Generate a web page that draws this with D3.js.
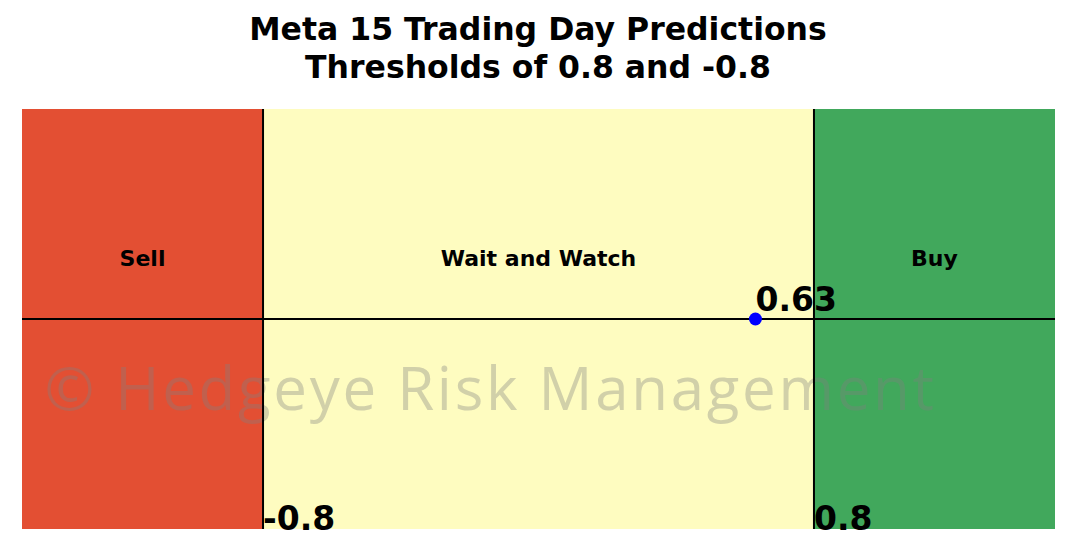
<!DOCTYPE html>
<html lang="en">
<head>
    <meta charset="UTF-8">
    <title>Meta 15 Trading Day Predictions</title>
    <script src="https://d3js.org/d3.v7.min.js"></script>
    <style>
        body { margin: 0; background: #fff; }
        text { font-family: "DejaVu Sans", sans-serif; }
    </style>
</head>
<body>
    <svg id="chart" width="1075" height="539"></svg>
    <script>
        // zones and thresholds
        const zones = ["Sell", "Wait and Watch", "Buy"];
        const zoneStart = [-1.5, -0.8, 0.8];
        const zoneEnd = [-0.8, 0.8, 1.5];
        const zoneColors = ["#e34f33", "#fefcc0", "#41a85c"];
        const thresholds = [-0.8, 0.8];
        const thresholdLabels = ["-0.8", "0.8"];
        const prediction = 0.63;

        const svg = d3.select("#chart");
        const margin = {top: 109, left: 22};

        const x = d3.scaleLinear().domain([-1.5, 1.5]).range([margin.left, 1055]);
        const y = d3.scaleLinear().domain([-1, 1]).range([529, margin.top]);

        // title
        const title = svg.append("text")
            .attr("text-anchor", "middle")
            .style("font-weight", "bold")
            .style("font-size", "31.5px");
        title.append("tspan").attr("x", 538).attr("y", 40).text("Meta 15 Trading Day Predictions");
        title.append("tspan").attr("x", 538).attr("y", 78).text("Thresholds of 0.8 and -0.8");

        // background zones
        svg.selectAll(".zone")
            .data(zones)
            .enter()
            .append("rect")
            .attr("class", "zone")
            .attr("x", (d, i) => x(zoneStart[i]))
            .attr("width", (d, i) => x(zoneEnd[i]) - x(zoneStart[i]))
            .attr("y", y(1))
            .attr("height", y(-1) - y(1))
            .attr("fill", (d, i) => zoneColors[i]);

        svg.selectAll(".zone-label")
            .data(zones)
            .enter()
            .append("text")
            .attr("class", "zone-label")
            .attr("x", (d, i) => x((zoneStart[i] + zoneEnd[i]) / 2))
            .attr("y", y(0.29))
            .attr("dy", "0.35em")
            .attr("text-anchor", "middle")
            .style("font-weight", "bold")
            .style("font-size", "22px")
            .text(d => d);

        // watermark
        svg.append("text")
            .attr("x", x(-1.435))
            .attr("y", 410)
            .style("font-family", "'Open Sans', sans-serif")
            .style("font-size", "60px")
            .style("letter-spacing", "2.7px")
            .style("fill", "#808080")
            .style("opacity", 0.35)
            .text("\u00a9 Hedgeye Risk Management");

        // threshold lines
        svg.selectAll(".threshold")
            .data(thresholds)
            .enter()
            .append("line")
            .attr("x1", d => x(d)).attr("x2", d => x(d))
            .attr("y1", y(1)).attr("y2", y(-1))
            .attr("stroke", "#000")
            .attr("stroke-width", 2);

        svg.append("line")
            .attr("x1", x(-1.5)).attr("x2", x(1.5))
            .attr("y1", y(0)).attr("y2", y(0))
            .attr("stroke", "#000")
            .attr("stroke-width", 2);

        svg.selectAll(".threshold-label")
            .data(thresholds)
            .enter()
            .append("text")
            .attr("x", d => x(d))
            .attr("y", y(-1) + 1)
            .style("font-weight", "bold")
            .style("font-size", "33px")
            .text((d, i) => thresholdLabels[i]);

        // prediction point
        svg.append("circle")
            .attr("cx", x(prediction))
            .attr("cy", y(0))
            .attr("r", 6.5)
            .attr("fill", "#0000ff");

        svg.append("text")
            .attr("x", x(prediction))
            .attr("y", y(0) - 8)
            .style("font-weight", "bold")
            .style("font-size", "33px")
            .text(prediction.toFixed(2));
    </script>
</body>
</html>
